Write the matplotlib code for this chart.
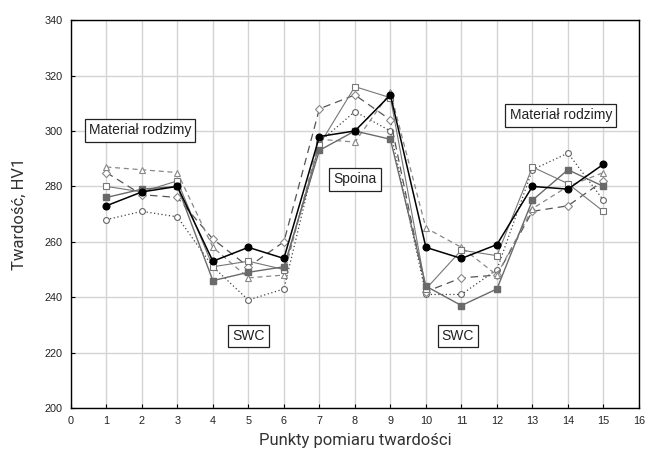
import numpy as np
import matplotlib.pyplot as plt

# measurement points
points = np.arange(1, 16)

# hardness values (HV1)
s_black = [273, 278, 280, 253, 258, 254, 298, 300, 313, 258, 254, 259, 280, 279, 288]
s_fsq = [276, 279, 280, 246, 249, 251, 293, 300, 297, 244, 237, 243, 275, 286, 280]
s_osq = [280, 278, 282, 251, 253, 250, 295, 316, 312, 243, 257, 255, 287, 281, 271]
s_tri = [287, 286, 285, 258, 247, 248, 297, 296, 314, 265, 258, 248, 272, 280, 285]
s_dia = [285, 277, 276, 261, 251, 260, 308, 313, 304, 242, 247, 248, 271, 273, 282]
s_circ = [268, 271, 269, 251, 239, 243, 296, 307, 300, 241, 241, 250, 286, 292, 275]

xticks = list(range(0, 17))
yticks = list(range(200, 341, 20))

fig = plt.figure(figsize=(6.5, 4.57), dpi=100)
ax = fig.add_axes([0.109, 0.107, 0.874, 0.849])

# light series first, dark on top
ax.plot(points, s_circ, color='#444444', ls=(0, (1, 2)), lw=0.9, marker='o', ms=4.2,
        mfc='white', mec='#666666', mew=0.8)
ax.plot(points, s_dia, color='#555555', ls=(0, (6, 4)), lw=0.9, marker='D', ms=3.8,
        mfc='white', mec='#888888', mew=0.8)
ax.plot(points, s_tri, color='#888888', ls=(0, (4, 3)), lw=0.9, marker='^', ms=4.5,
        mfc='white', mec='#888888', mew=0.8)
ax.plot(points, s_osq, color='#777777', ls='-', lw=0.8, marker='s', ms=4.5,
        mfc='white', mec='#777777', mew=0.8)
ax.plot(points, s_fsq, color='#6a6a6a', ls='-', lw=1.0, marker='s', ms=5,
        mfc='#6a6a6a', mec='#6a6a6a')
ax.plot(points, s_black, color='black', ls='-', lw=1.1, marker='o', ms=4.8,
        mfc='black', mec='black')

ax.set_xlim(0, 16)
ax.set_ylim(200, 340)
ax.set_xticks(xticks)
ax.set_yticks(yticks)
ax.grid(True, color='#d4d4d4', lw=1.0)
ax.set_axisbelow(True)
ax.tick_params(direction='in', length=3, labelsize=7.8, labelcolor='#222222',
               pad=6, labelfontfamily='Liberation Sans')
for sp in ax.spines.values():
    sp.set_linewidth(1.0)

ax.set_xlabel('Punkty pomiaru twardości', fontsize=12, family='Roboto',
              color='#333333', labelpad=5)
ax.set_ylabel('Twardość, HV1', fontsize=12, family='Roboto',
              color='#333333', labelpad=13)

box = dict(boxstyle='square,pad=0.3', fc='white', ec='#222222', lw=0.9)
labels = [('Materiał rodzimy', 1.95, 300.2), ('Materiał rodzimy', 13.8, 305.6),
          ('Spoina', 8.0, 282.5), ('SWC', 5.0, 226.0), ('SWC', 10.9, 226.0)]
for txt, x, y in labels:
    ax.text(x, y, txt, ha='center', va='center', fontsize=10,
            family='Liberation Sans', color='#222222', bbox=box)

plt.savefig('out.png', dpi=100)
